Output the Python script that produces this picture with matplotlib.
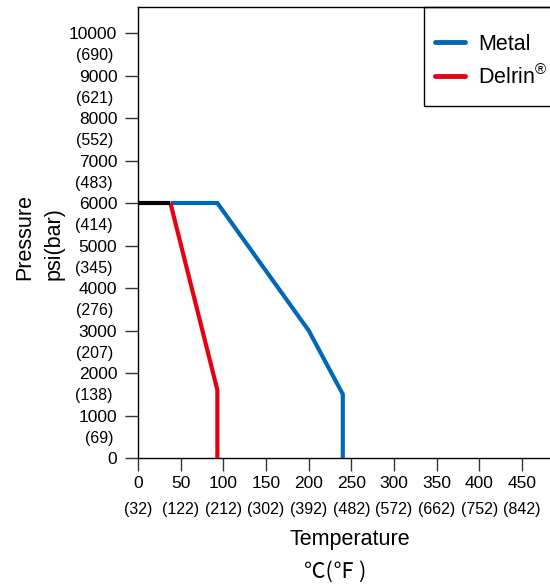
import matplotlib
matplotlib.use("Agg")
import matplotlib.pyplot as plt
from matplotlib.patches import Rectangle

plt.rcParams['font.family'] = ['Liberation Sans', 'Noto Sans CJK JP', 'DejaVu Sans']
plt.rcParams['mathtext.fontset'] = 'custom'
plt.rcParams['mathtext.rm'] = 'Liberation Sans'
plt.rcParams['mathtext.it'] = 'Liberation Sans'

# Data
metal_temp = [38, 93, 200, 240, 240]
metal_psi = [6000, 6000, 3000, 1500, 0]
delrin_temp = [38, 93, 93]
delrin_psi = [6000, 1600, 0]
shared_temp = [0, 38]
shared_psi = [6000, 6000]

x_ticks = [0, 50, 100, 150, 200, 250, 300, 350, 400, 450]
x_f_labels = ["(32)", "(122)", "(212)", "(302)", "(392)", "(482)", "(572)", "(662)", "(752)", "(842)"]
y_ticks = [0, 1000, 2000, 3000, 4000, 5000, 6000, 7000, 8000, 9000, 10000]
y_bar_pos = [500, 1500, 2500, 3500, 4500, 5500, 6500, 7500, 8500, 9500]
y_bar_labels = ["(69)", "(138)", "(207)", "(276)", "(345)", "(414)", "(483)", "(552)", "(621)", "(690)"]

W, H = 550, 587
fig = plt.figure(figsize=(W/100, H/100), dpi=100)
left, right, top, bottom = 138, 550, 7, 458
ax = fig.add_axes([left/W, 1-bottom/H, (right-left)/W, (bottom-top)/H])

blue = '#0068B7'
red = '#E60012'
ax.plot(metal_temp, metal_psi, color=blue, lw=3, solid_capstyle='butt', solid_joinstyle='miter', label='Metal', zorder=3)
ax.plot(delrin_temp, delrin_psi, color=red, lw=3, solid_capstyle='butt', solid_joinstyle='miter',
        label=r'Delrin$^{\mathregular{®}}$', zorder=3)
ax.plot(shared_temp, shared_psi, color='black', lw=3, solid_capstyle='butt', zorder=4)

ax.set_xlim(0, 482.8)
ax.set_ylim(0, 10612)

ax.spines['right'].set_visible(False)
for s in ['left', 'bottom', 'top']:
    ax.spines[s].set_linewidth(1.0)

ax.set_xticks(x_ticks)
ax.set_xticklabels([str(v) for v in x_ticks], fontsize=12.5)
ax.set_xticks(x_ticks, minor=True)
ax.xaxis.remove_overlapping_locs = False
ax.set_xticklabels(x_f_labels, minor=True, fontsize=11.5)
ax.tick_params(axis='x', which='major', direction='out', length=9.4, width=1, pad=3.5, colors='#333333', labelcolor='black')
ax.tick_params(axis='x', which='minor', length=0, pad=31.5)

ax.set_yticks(y_ticks)
ax.set_yticklabels([str(v) for v in y_ticks], fontsize=12.5)
ax.set_yticks(y_bar_pos, minor=True)
ax.set_yticklabels(y_bar_labels, minor=True, fontsize=11.5)
ax.tick_params(axis='y', which='major', direction='out', length=9.4, width=1, pad=5.5, colors='#333333', labelcolor='black')
ax.tick_params(axis='y', which='minor', length=0, pad=18)

fig.text(25/W, 1-237/H, 'Pressure', rotation=90, ha='center', va='center', fontsize=15.5)
fig.text(54/W, 1-244/H, 'psi(bar)', rotation=90, ha='center', va='center', fontsize=15.5)
fig.text(350/W, 1-539/H, 'Temperature', ha='center', va='center', fontsize=15.5)
fig.text(335/W, 1-572/H, '℃(℉ )', ha='center', va='center', fontsize=15.5,
         family=['Noto Sans CJK JP', 'DejaVu Sans'])

# legend frame
fig.patches.append(Rectangle((424/W, 1-106/H), (W-424)/W + 0.01, (106-7)/H, transform=fig.transFigure,
                             fill=False, edgecolor='black', lw=1.0, zorder=5))
leg = fig.legend(loc='upper left', bbox_to_anchor=(435/W, 1-34/H), frameon=False, fontsize=15.5,
                 handlelength=1.4, handletextpad=0.6, labelspacing=0.43, borderaxespad=0, borderpad=0)
for line in leg.get_lines():
    line.set_solid_capstyle('round')
    line.set_linewidth(3.5)

fig.savefig('out.png', dpi=100)
